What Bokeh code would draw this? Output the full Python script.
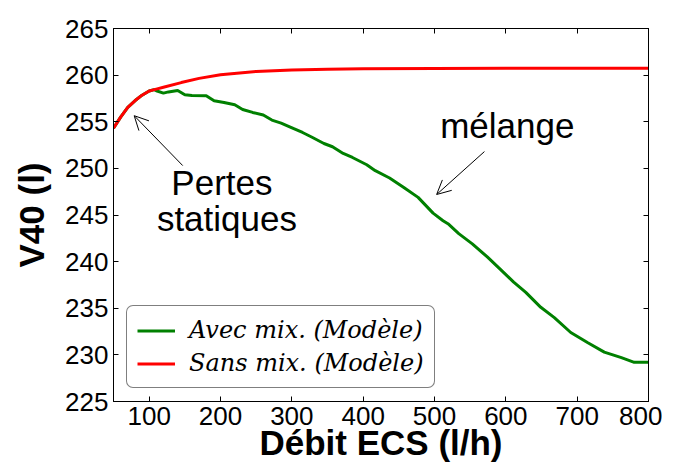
from bokeh.plotting import figure
from bokeh.models import (Range1d, LinearAxis, FixedTicker, Legend, LegendItem,
                          Arrow, OpenHead, Label)
from bokeh.embed import file_html
from bokeh.resources import INLINE

# ---- data ----
x_avec = [50, 60, 70, 80, 90, 100, 107, 110, 120, 127, 140, 150, 160, 180, 191, 205,
          220, 231, 245, 260, 272, 285, 297, 315, 327, 345, 357, 372, 385, 405, 417,
          437, 457, 477, 498, 512, 520, 534, 553, 574, 592, 611, 628, 649, 668, 691,
          715, 738, 762, 780, 800]
y_avec = [254.3, 255.5, 256.55, 257.25, 257.85, 258.3, 258.45, 258.32, 258.07, 258.2,
          258.36, 257.9, 257.82, 257.79, 257.25, 257.07, 256.82, 256.32, 256.0, 255.72,
          255.18, 254.86, 254.46, 253.85, 253.39, 252.67, 252.32, 251.6, 251.17, 250.39,
          249.75, 248.97, 247.96, 246.89, 245.2, 244.39, 244.0, 243.0, 241.9, 240.5,
          239.2, 237.8, 236.7, 235.1, 234.0, 232.4, 231.3, 230.3, 229.7, 229.2, 229.2]

x_sans = [50, 60, 70, 80, 90, 100, 110, 120, 145, 170, 200, 250, 300, 350, 400, 500,
          600, 700, 800]
y_sans = [254.3, 255.5, 256.55, 257.25, 257.85, 258.3, 258.5, 258.7, 259.2, 259.65,
          260.05, 260.4, 260.55, 260.63, 260.68, 260.72, 260.73, 260.73, 260.73]

x_ticks = [100, 200, 300, 400, 500, 600, 700, 800]
y_ticks = [225, 230, 235, 240, 245, 250, 255, 260, 265]

label_avec = "Avec mix. (Modèle)"
label_sans = "Sans mix. (Modèle)"
x_title = "Débit ECS (l/h)"
y_title = "V40 (l)"

# annotation anchors (data units)
pertes_arrow = dict(x_start=147, y_start=250.3, x_end=79, y_end=255.65)
melange_arrow = dict(x_start=570, y_start=251.8, x_end=503, y_end=247.2)

FONT = "Liberation Sans"

p = figure(width=662, height=464, output_backend="svg", toolbar_location=None,
           x_range=Range1d(50, 800), y_range=Range1d(225, 265),
           min_border_left=113, min_border_right=14, min_border_top=28,
           min_border_bottom=10)
p.background_fill_color = "white"
p.border_fill_color = "white"
p.outline_line_color = "black"
p.xgrid.visible = False
p.ygrid.visible = False

r_avec = p.line(x_avec, y_avec, line_color="#008000", line_width=3)
r_sans = p.line(x_sans, y_sans, line_color="#ff0000", line_width=3)


def style_axis(ax, ticks, show_labels):
    ax.ticker = FixedTicker(ticks=ticks)
    ax.major_tick_in = 5
    ax.major_tick_out = 0
    ax.minor_tick_line_color = None
    ax.axis_line_color = "black"
    ax.major_tick_line_color = "black"
    if show_labels:
        ax.major_label_text_font = FONT
        ax.major_label_text_font_size = "26px"
        ax.major_label_text_color = "black"
    else:
        ax.major_label_text_font_size = "0px"
        ax.major_label_standoff = 0


style_axis(p.xaxis[0], x_ticks, True)
style_axis(p.yaxis[0], y_ticks, True)
p.xaxis[0].major_label_standoff = 5
p.yaxis[0].major_label_standoff = 5

p.xaxis[0].axis_label = x_title
p.yaxis[0].axis_label = y_title
for ax in (p.xaxis[0], p.yaxis[0]):
    ax.axis_label_text_font = FONT
    ax.axis_label_text_font_size = "35px"
    ax.axis_label_text_font_style = "bold"
    ax.axis_label_text_color = "black"
p.xaxis[0].axis_label_standoff = -5
p.yaxis[0].axis_label_standoff = 11

top_ax = LinearAxis()
style_axis(top_ax, x_ticks, False)
p.add_layout(top_ax, "above")
right_ax = LinearAxis()
style_axis(right_ax, y_ticks, False)
p.add_layout(right_ax, "right")

# annotations
p.add_layout(Arrow(end=OpenHead(size=14, line_width=1, line_color="black"),
                   line_width=1, line_color="black", **pertes_arrow))
p.add_layout(Arrow(end=OpenHead(size=14, line_width=1, line_color="black"),
                   line_width=1, line_color="black", **melange_arrow))

for txt, xx, yy in [("Pertes", 202, 248.45), ("statiques", 209, 244.6),
                    ("mélange", 602, 254.6)]:
    p.add_layout(Label(x=xx, y=yy, text=txt, text_font=FONT, text_font_size="35px",
                       text_align="center", text_baseline="alphabetic",
                       text_color="black"))

legend = Legend(items=[LegendItem(label=label_avec, renderers=[r_avec]),
                       LegendItem(label=label_sans, renderers=[r_sans])],
                location=(13, 13), label_text_font="DejaVu Serif",
                label_text_font_style="italic", label_text_font_size="24px",
                label_text_color="black",
                glyph_width=38, glyph_height=25, label_height=25,
                label_standoff=14, spacing=5, padding=10, margin=0,
                border_line_color="black", border_line_width=1.5,
                background_fill_color="white", background_fill_alpha=1)
try:
    legend.border_radius = 7
except Exception:
    pass
p.add_layout(legend, "center")

open("out.html", "w").write(file_html(p, INLINE))
